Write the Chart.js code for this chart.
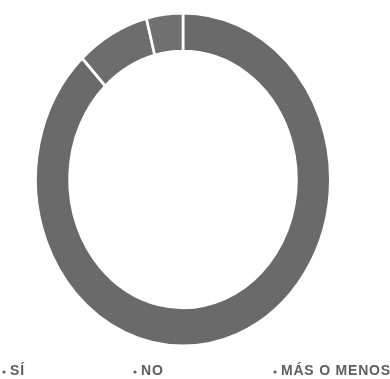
<!DOCTYPE html>
<html>
<head>
<meta charset="utf-8">
<script src="https://cdn.jsdelivr.net/npm/chart.js@4.4.0/dist/chart.umd.min.js"></script>
<style>
html,body{margin:0;padding:0;background:#fff;}
#wrap{width:390px;height:379px;position:relative;}
</style>
</head>
<body>
<div id="wrap"><canvas id="c" width="390" height="379"></canvas></div>
<script>
const labels = ["SÍ", "NO", "MÁS O MENOS"];
const values = [88, 8, 4];
const colors = ["#6a6a6a", "#6d6d6d", "#717171"];
const legendX = [4, 135, 275];

// the source ring is slightly taller than wide
const ellipse = {
  id: 'ellipse',
  beforeDatasetsDraw(chart) {
    const a = chart.chartArea;
    const cx = (a.left + a.right) / 2, cy = (a.top + a.bottom) / 2;
    const ctx = chart.ctx;
    ctx.save();
    ctx.translate(cx, cy);
    ctx.scale(0.885, 1);
    ctx.translate(-cx, -cy);
  },
  afterDatasetsDraw(chart) {
    chart.ctx.restore();
  }
};

const bottomLegend = {
  id: 'bottomLegend',
  afterDraw(chart) {
    const ctx = chart.ctx;
    ctx.save();
    ctx.fillStyle = '#5e5e5e';
    ctx.font = 'bold 14px "Liberation Sans", Arial, sans-serif';
    try { ctx.letterSpacing = '0.8px'; } catch (e) {}
    ctx.textBaseline = 'middle';
    chart.data.labels.forEach((lab, i) => {
      const x = legendX[i];
      const y = 371;
      ctx.beginPath();
      ctx.arc(x, y + 1, 1.6, 0, Math.PI * 2);
      ctx.fill();
      ctx.fillText(lab, x + 6, y);
    });
    ctx.restore();
  }
};

new Chart(document.getElementById('c'), {
  type: 'doughnut',
  data: {
    labels: labels,
    datasets: [{
      data: values,
      backgroundColor: colors,
      borderColor: '#ffffff',
      borderWidth: 3
    }]
  },
  options: {
    responsive: false,
    animation: false,
    cutout: '77%',
    layout: { padding: { left: 15, top: 11, right: 39, bottom: 31 } },
    plugins: {
      legend: { display: false },
      tooltip: { enabled: false }
    }
  },
  plugins: [ellipse, bottomLegend]
});
</script>
</body>
</html>
